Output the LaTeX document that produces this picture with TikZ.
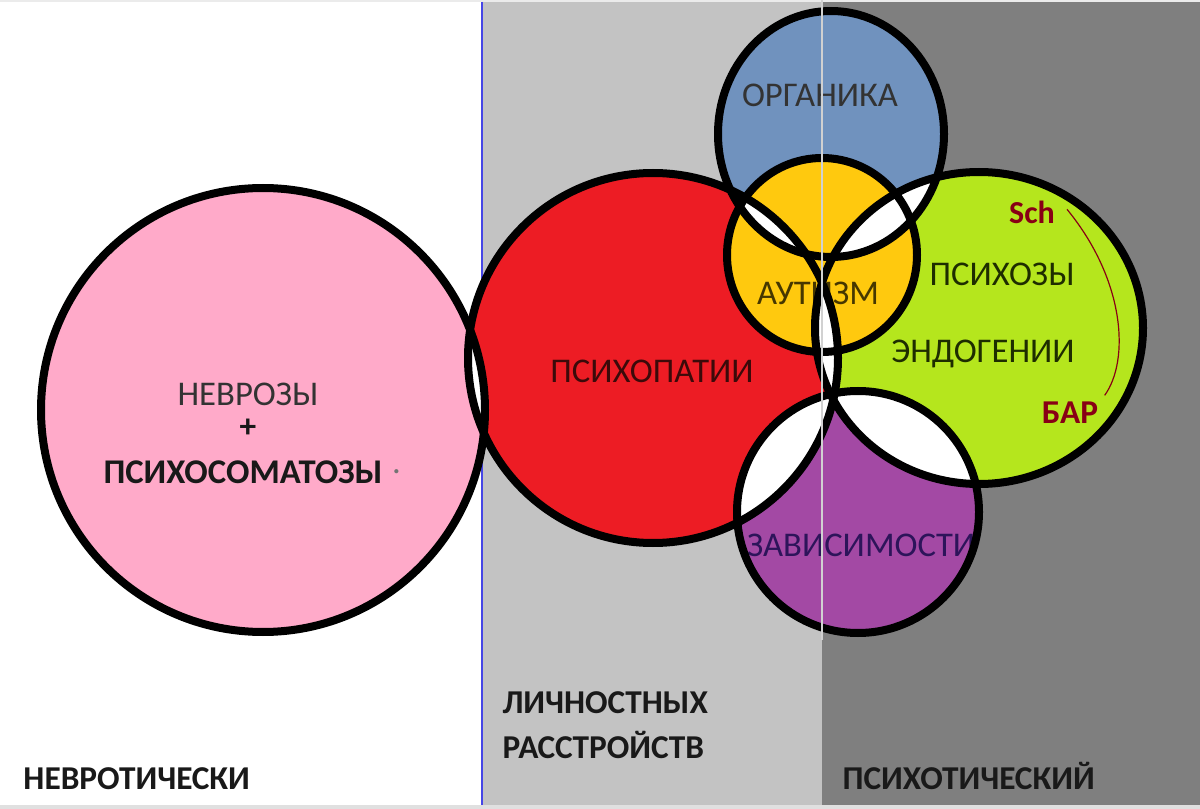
\documentclass[tikz,border=0pt]{standalone}
\usepackage{fontspec}
\setmainfont{Carlito}
\usetikzlibrary{positioning}
\definecolor{lgray}{RGB}{195,195,195}
\definecolor{dgray}{RGB}{127,127,127}
\definecolor{pinkc}{RGB}{255,170,201}
\definecolor{redc}{RGB}{237,28,36}
\definecolor{bluec}{RGB}{112,146,190}
\definecolor{yellowc}{RGB}{255,201,14}
\definecolor{greenc}{RGB}{181,230,29}
\definecolor{purplec}{RGB}{163,73,164}
\definecolor{darkredc}{RGB}{136,0,21}
\tikzset{every picture/.style={line width=0.75pt}}
\tikzset{
  ring/.style={draw=black,line width=6pt},
  lbl/.style={inner sep=0.75pt,font=\fontsize{26}{30}\selectfont},
  blbl/.style={inner sep=0.75pt,font=\fontsize{25}{29}\selectfont\bfseries,text=black!90},
}

\begin{document}
\begin{tikzpicture}[x=0.75pt,y=0.75pt,yscale=-1,xscale=1]
\useasboundingbox (0,0) rectangle (1200,809);

%Background
\fill[white] (0,0) rectangle (1200,809);
\fill[lgray] (482,2) rectangle (822,805);
\fill[dgray] (822,2) rectangle (1200,805);
\fill[black!12] (0,805) rectangle (1200,809);
\fill[black!8] (0,0) rectangle (1200,2);
\draw[line width=1.5pt,color={rgb,255:red,70;green,70;blue,230}] (482,2) -- (482,805);

%Shape: Circle
\fill[pinkc] (263,410) circle (222);
%Shape: Circle
\fill[redc] (653,358) circle (185);
%Shape: Ellipse
\fill[bluec] (831,134) ellipse (113 and 123);
%Shape: Ellipse
\fill[greenc] (979,328) ellipse (164 and 156);
%Shape: Circle
\fill[purplec] (858,512) circle (121);
%Shape: Ellipse
\fill[yellowc] (822,255) ellipse (95 and 97);

% Text Node
\node[lbl,text=black!80] (organika) at (820,95) {ОРГАНИКА};
% Text Node
\node[lbl,text={rgb,255:red,70;green,55;blue,0}] (autizm) at (818,293) {АУТИЗМ};
% Text Node
\node[lbl,text={rgb,255:red,60;green,10;blue,10}] (psihopatii) at (652,371) {ПСИХОПАТИИ};
% Text Node
\node[lbl,text={rgb,255:red,30;green,45;blue,0}] (psihozy) at (1002,274) {ПСИХОЗЫ};
% Text Node
\node[lbl,text={rgb,255:red,30;green,45;blue,0}] (endogenii) at (983,354) {ЭНДОГЕНИИ};
% Text Node
\node[lbl,text={rgb,255:red,45;green,20;blue,90}] (zavisimosti) at (861,545) {ЗАВИСИМОСТИ};
% Text Node
\node[lbl,text=black!80] (nevrozy) at (248,394) {НЕВРОЗЫ};
% Text Node
\node[blbl] (plus) at (248,428) {+};
% Text Node
\node[blbl,font=\fontsize{26}{30}\selectfont\bfseries] (psihosomatozy) at (243,472) {ПСИХОСОМАТОЗЫ};
% Text Node
\node[lbl,text=black!55,right=5pt of psihosomatozy] (dot) {.};

%Lenses
\begin{scope}
\clip (263,410) circle (222);
\fill[white] (653,358) circle (185);
\end{scope}
\begin{scope}
\clip (653,358) circle (185);
\fill[white] (831,134) ellipse (113 and 123);
\fill[white] (979,328) ellipse (164 and 156);
\fill[white] (858,512) circle (121);
\end{scope}
\begin{scope}
\clip (979,328) ellipse (164 and 156);
\fill[white] (831,134) ellipse (113 and 123);
\fill[white] (858,512) circle (121);
\end{scope}

%Outlines
\draw[ring] (263,410) circle (222);
\draw[ring] (653,358) circle (185);
\draw[ring] (831,134) ellipse (113 and 123);
\draw[ring] (979,328) ellipse (164 and 156);
\draw[ring] (858,512) circle (121);
\draw[ring] (822,255) ellipse (95 and 97);

%Straight Lines
\draw[line width=1.5pt,color=black!18] (822,0) -- (822,640);

% Text Node
\node[blbl,text=darkredc,font=\fontsize{24}{28}\selectfont\bfseries] (sch) at (1032,212) {Sch};
% Text Node
\node[blbl,text=darkredc] (bar) at (1070,413) {БАР};
%Curve Lines
\draw[darkredc,line width=0.9pt] ([xshift=8pt,yshift=-2pt]sch.east) .. controls (1125,280) and (1130,360) .. ([xshift=26pt,yshift=-4pt]bar.north);

% Text Node
\node[blbl,anchor=west] (lichnostnyh) at (501,703) {ЛИЧНОСТНЫХ};
% Text Node
\node[blbl,anchor=west] (rasstroistv) at (501,745) {РАССТРОЙСТВ};
% Text Node
\node[blbl,anchor=west] (nevroticheski) at (22,779) {НЕВРОТИЧЕСКИ};
% Text Node
\node[blbl,anchor=west] (psihoticheski) at (841,776) {ПСИХОТИЧЕСКИЙ};

\end{tikzpicture}
\end{document}
